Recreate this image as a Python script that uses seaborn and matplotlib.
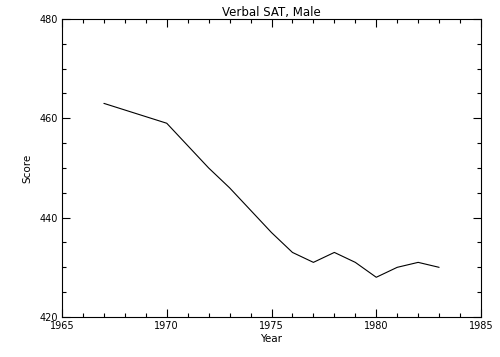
import pandas as pd
import matplotlib
matplotlib.use('Agg')
import matplotlib.pyplot as plt
import seaborn as sns
from matplotlib.ticker import MultipleLocator

# verbal SAT, male
years = [1967, 1970, 1971, 1972, 1973, 1974, 1975, 1976, 1977, 1978, 1979, 1980, 1981, 1982, 1983]
scores = [463, 459, 454.5, 450, 446, 441.5, 437, 433, 431, 433, 431, 428, 430, 431, 430]

info = pd.DataFrame({'Year': years, 'Score': scores})

sns.set_style('white')
plt.rcParams['font.family'] = ['DejaVu Sans']
plt.rcParams['text.color'] = 'black'
plt.rcParams['axes.labelcolor'] = 'black'

fig = plt.figure(figsize=(5, 3.57), dpi=100)
ax = fig.add_axes([0.124, 0.112, 0.838, 0.835])

sns.lineplot(x='Year', y='Score', data=info, color='black', linewidth=0.8, ax=ax)

ax.set_xlim(1965, 1985)
ax.set_ylim(420, 480)
ax.xaxis.set_major_locator(MultipleLocator(5))
ax.xaxis.set_minor_locator(MultipleLocator(1))
ax.yaxis.set_major_locator(MultipleLocator(20))
ax.yaxis.set_minor_locator(MultipleLocator(5))
ax.tick_params(which='both', direction='in', top=True, right=True, bottom=True, left=True,
               color='black', labelcolor='black', width=0.8, labelsize=7)
ax.tick_params(which='major', length=6, pad=3)
ax.tick_params(which='minor', length=3)
for s in ax.spines.values():
    s.set_color('black')
    s.set_linewidth(0.8)

ax.set_title('Verbal SAT, Male', fontsize=8.5, pad=2, color='black')
ax.set_xlabel('Year', fontsize=7.5, labelpad=2)
ax.set_ylabel('Score', fontsize=7.5, labelpad=5)

plt.savefig('out.png', dpi=100)
